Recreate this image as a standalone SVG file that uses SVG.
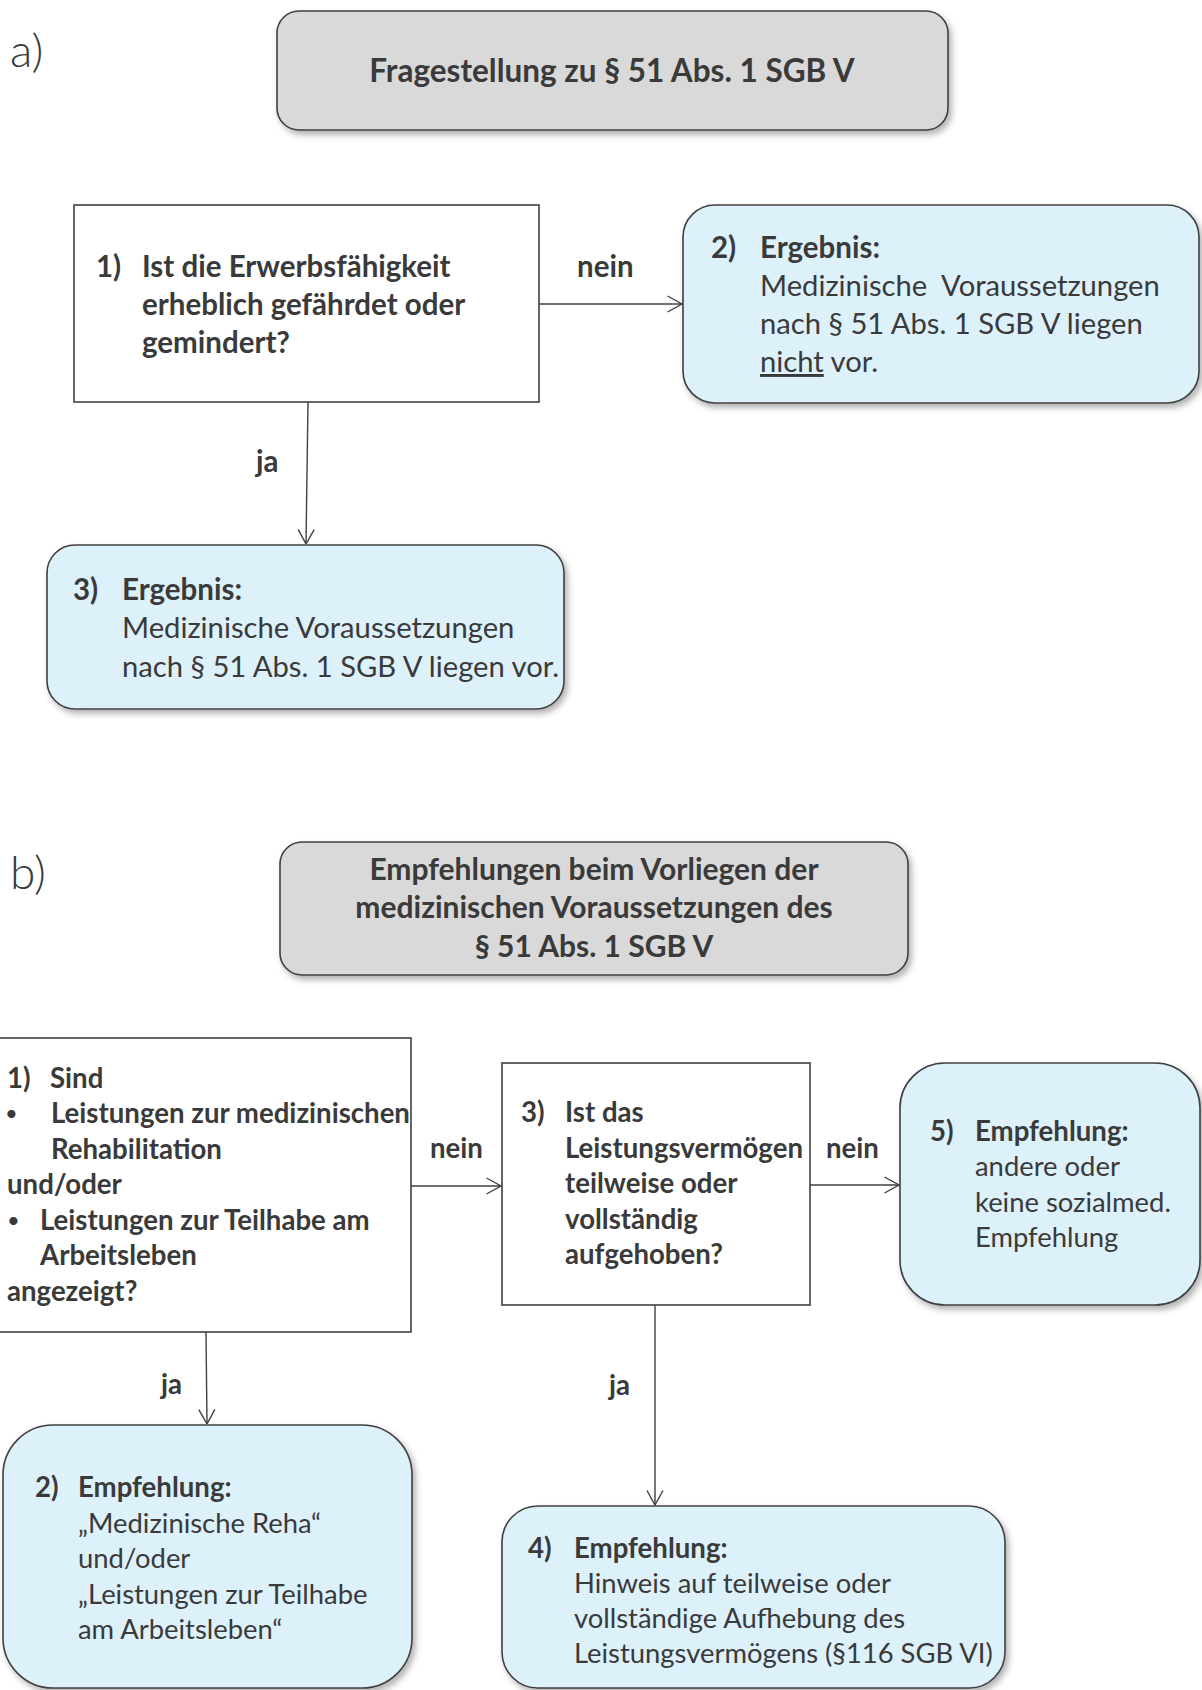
<svg xmlns="http://www.w3.org/2000/svg" width="1202" height="1690" viewBox="0 0 1202 1690">
<defs>
<style>
.t{font-family:Lato,"Liberation Sans",sans-serif;fill:#3a3a3a}
.b{font-weight:700}
.ha{font-size:31.5px}
.hb{font-size:30px}
.fa{font-size:29.5px}
.fb{font-size:27.6px}
.ra{font-size:29.2px}
.rb{font-size:27.4px}
.bul{font-size:22px}
.lbl{font-family:Lato,"Liberation Sans",sans-serif;font-weight:300;font-size:46px;fill:#3a3a3a}
.gray{fill:#d9d9d9;stroke:#404040;stroke-width:1.6}
.blue{fill:#dcf1fa;stroke:#404040;stroke-width:1.6}
.white{fill:#ffffff;stroke:#404040;stroke-width:1.6}
.conn line{stroke:#404040;stroke-width:1.4;fill:none;marker-end:url(#arr)}
</style>
<filter id="sh" x="-10%" y="-10%" width="130%" height="130%">
<feDropShadow dx="3" dy="4" stdDeviation="3" flood-color="#000" flood-opacity="0.3"/>
</filter>
<marker id="arr" viewBox="0 0 16 18" refX="15.5" refY="9" markerWidth="16" markerHeight="18" markerUnits="userSpaceOnUse" orient="auto">
<path d="M1,1 L15.5,9 L1,17" fill="none" stroke="#404040" stroke-width="1.4"/>
</marker>
</defs>
<rect width="1202" height="1690" fill="#ffffff"/>

<text class="lbl" x="10" y="67">a)</text>
<text class="lbl" x="10" y="889">b)</text>

<g id="conn" class="conn">
<line x1="539" y1="304" x2="682" y2="304"/>
<line x1="308" y1="402" x2="306" y2="544"/>
<line x1="411" y1="1186" x2="501" y2="1186"/>
<line x1="810" y1="1185" x2="899" y2="1185"/>
<line x1="206" y1="1332" x2="207" y2="1424"/>
<line x1="655" y1="1305" x2="655" y2="1505"/>
<text class="t b fa" x="577" y="277">nein</text>
<text class="t b fa" x="256" y="472">ja</text>
<text class="t b fb" x="430" y="1158">nein</text>
<text class="t b fb" x="826" y="1158">nein</text>
<text class="t b fb" x="161" y="1394">ja</text>
<text class="t b fb" x="609" y="1395">ja</text>
</g>

<g id="a-header">
<rect class="gray" x="277" y="11" width="671" height="119" rx="22" filter="url(#sh)"/>
<text class="t b ha" x="612" y="82" text-anchor="middle">Fragestellung zu § 51 Abs. 1 SGB V</text>
</g>

<g id="a-q1">
<rect class="white" x="74" y="205" width="465" height="197"/>
<text class="t b fa" x="96" y="277">1)</text>
<text class="t b fa" x="142" y="277">Ist die Erwerbsfähigkeit</text>
<text class="t b fa" x="142" y="315">erheblich gefährdet oder</text>
<text class="t b fa" x="142" y="353">gemindert?</text>
</g>

<g id="a-r2">
<rect class="blue" x="683" y="205" width="516" height="198" rx="32" filter="url(#sh)"/>
<text class="t b fa" x="711" y="258">2)</text>
<text class="t b fa" x="760" y="258">Ergebnis:</text>
<text class="t ra" x="760" y="296" xml:space="preserve">Medizinische  Voraussetzungen</text>
<text class="t ra" x="760" y="334">nach § 51 Abs. 1 SGB V liegen</text>
<text class="t ra" x="760" y="372"><tspan text-decoration="underline">nicht</tspan> vor.</text>
</g>

<g id="a-r3">
<rect class="blue" x="47" y="545" width="517" height="164" rx="28" filter="url(#sh)"/>
<text class="t b fa" x="73" y="600">3)</text>
<text class="t b fa" x="122" y="600">Ergebnis:</text>
<text class="t ra" x="122" y="638">Medizinische Voraussetzungen</text>
<text class="t ra" x="122" y="677">nach § 51 Abs. 1 SGB V liegen vor.</text>
</g>

<g id="b-header">
<rect class="gray" x="280" y="842" width="628" height="133" rx="22" filter="url(#sh)"/>
<text class="t b hb" x="594" y="880" text-anchor="middle">Empfehlungen beim Vorliegen der</text>
<text class="t b hb" x="594" y="918" text-anchor="middle">medizinischen Voraussetzungen des</text>
<text class="t b hb" x="594" y="957" text-anchor="middle">§ 51 Abs. 1 SGB V</text>
</g>

<g id="b-q1">
<rect class="white" x="-2" y="1038" width="413" height="294"/>
<text class="t b fb" x="7" y="1088">1)</text>
<text class="t b fb" x="50" y="1088">Sind</text>
<text class="t bul" x="5" y="1121">•</text>
<text class="t b fb" x="51" y="1123">Leistungen zur medizinischen</text>
<text class="t b fb" x="51" y="1159">Rehabilitation</text>
<text class="t b fb" x="7" y="1194">und/oder</text>
<text class="t bul" x="7" y="1228">•</text>
<text class="t b fb" x="40" y="1230">Leistungen zur Teilhabe am</text>
<text class="t b fb" x="40" y="1265">Arbeitsleben</text>
<text class="t b fb" x="7" y="1301">angezeigt?</text>
</g>

<g id="b-q3">
<rect class="white" x="502" y="1063" width="308" height="242"/>
<text class="t b fb" x="521" y="1122">3)</text>
<text class="t b fb" x="565" y="1122">Ist das</text>
<text class="t b fb" x="565" y="1158">Leistungsvermögen</text>
<text class="t b fb" x="565" y="1193">teilweise oder</text>
<text class="t b fb" x="565" y="1229">vollständig</text>
<text class="t b fb" x="565" y="1264">aufgehoben?</text>
</g>

<g id="b-r5">
<rect class="blue" x="900" y="1063" width="300" height="242" rx="45" filter="url(#sh)"/>
<text class="t b fb" x="930" y="1141">5)</text>
<text class="t b fb" x="975" y="1141">Empfehlung:</text>
<text class="t rb" x="975" y="1176">andere oder</text>
<text class="t rb" x="975" y="1212">keine sozialmed.</text>
<text class="t rb" x="975" y="1247">Empfehlung</text>
</g>

<g id="b-r2">
<rect class="blue" x="3" y="1425" width="409" height="263" rx="50" filter="url(#sh)"/>
<text class="t b fb" x="35" y="1497">2)</text>
<text class="t b fb" x="78" y="1497">Empfehlung:</text>
<text class="t rb" x="78" y="1533">„Medizinische Reha“</text>
<text class="t rb" x="78" y="1568">und/oder</text>
<text class="t rb" x="78" y="1604">„Leistungen zur Teilhabe</text>
<text class="t rb" x="78" y="1639">am Arbeitsleben“</text>
</g>

<g id="b-r4">
<rect class="blue" x="502" y="1506" width="503" height="182" rx="36" filter="url(#sh)"/>
<text class="t b fb" x="528" y="1558">4)</text>
<text class="t b fb" x="574" y="1558">Empfehlung:</text>
<text class="t rb" x="574" y="1593">Hinweis auf teilweise oder</text>
<text class="t rb" x="574" y="1628">vollständige Aufhebung des</text>
<text class="t rb" x="574" y="1663">Leistungsvermögens (§116 SGB VI)</text>
</g>
</svg>
